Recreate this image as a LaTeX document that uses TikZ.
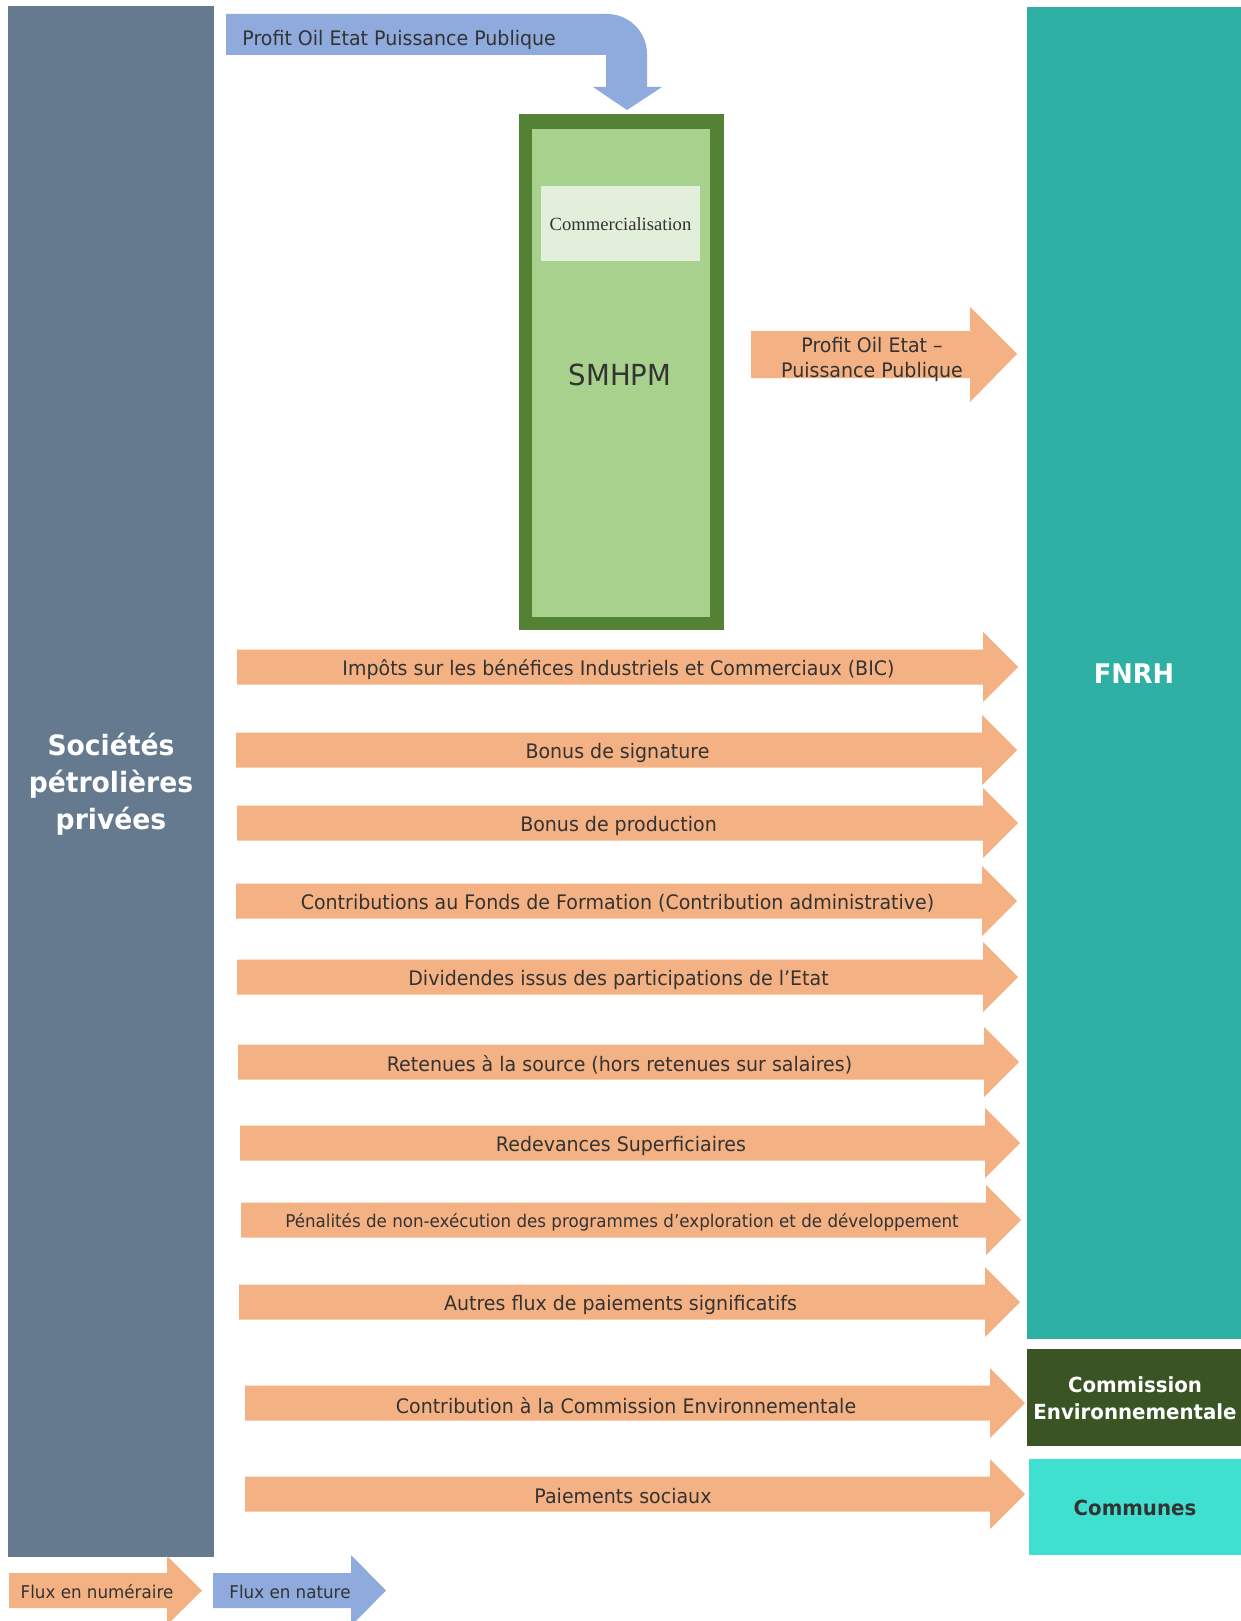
\documentclass[tikz,border=0pt]{standalone}
\usepackage{fontspec}
\setmainfont[FakeStretch=0.95]{DejaVu Sans}
\newfontfamily\serifcom{Liberation Serif}

\definecolor{fluxorange}{HTML}{F4B183}
\definecolor{fluxblue}{HTML}{8FAADC}
\definecolor{societes}{HTML}{657A8F}
\definecolor{fnrh}{HTML}{2EB0A4}
\definecolor{commission}{HTML}{3A5424}
\definecolor{communes}{HTML}{40E0D0}
\definecolor{smhpmdark}{HTML}{548235}
\definecolor{smhpmlight}{HTML}{A9D18E}
\definecolor{commbox}{HTML}{E2EFDA}
\definecolor{txtgray}{HTML}{333333}

\begin{document}
\begin{tikzpicture}[x=0.5pt, y=-0.5pt,
    every node/.style={font=\fontsize{10}{12.5}\selectfont, text=txtgray, inner sep=0pt, align=center},
    bigtitle/.style={font=\fontsize{14}{18.5}\selectfont\bfseries, text=white},
    boxtitle/.style={font=\fontsize{10.4}{13.5}\selectfont\bfseries}]

\useasboundingbox (0,0) rectangle (1241,1621);

% blocs
\fill[societes] (8,6) rectangle (214,1557);
\node[bigtitle] (soc) at (111,784) {Sociétés\\pétrolières\\privées};

\fill[fnrh] (1027,7) rectangle (1241,1339);
\node[bigtitle, font=\fontsize{13.5}{18}\selectfont\bfseries] (fnrh) at (1134,674) {FNRH};

\fill[commission] (1027,1349) rectangle (1241,1446);
\node[boxtitle, text=white] (comenv) at (1135,1398) {Commission\\Environnementale};

\fill[communes] (1029,1459) rectangle (1241,1555);
\node[boxtitle] (communes) at (1135,1508) {Communes};

% SMHPM
\fill[smhpmdark] (519,114) rectangle (724,630);
\fill[smhpmlight] (532,129) rectangle (710,617);
\fill[commbox] (541,186) rectangle (700,261);
\node[font=\serifcom\fontsize{9.3}{11}\selectfont] (comm) at (620.5,224) {Commercialisation};
\node[font=\fontsize{14.5}{18}\selectfont] (smhpm) at (620,375) {SMHPM};

% flux en nature vers SMHPM
\fill[fluxblue] (226,14) -- (607,14) arc(-90:0:40) -- (647,87) -- (662,87) -- (627,110)
    -- (593,87) -- (606,87) -- (606,55) -- (226,55) -- cycle;
\node[anchor=west] (pnature) at (242,40) {Profit Oil Etat Puissance Publique};

% SMHPM vers FNRH
\fill[fluxorange] (751,331) -- (970,331) -- (970,307) -- (1017,354) -- (970,402)
    -- (970,378) -- (751,378) -- cycle;
\node (pnum) at (872,359) {Profit Oil Etat –\\Puissance Publique};

% flux en numeraire
\foreach \n/\xl/\yc/\xt/\fs/\lbl in {
1/237/667/1018/10/{Impôts sur les bénéfices Industriels et Commerciaux (BIC)},
2/236/750/1017/10/{Bonus de signature},
3/237/823/1018/10/{Bonus de production},
4/236/901/1017/10/{Contributions au Fonds de Formation (Contribution administrative)},
5/237/977/1018/10/{Dividendes issus des participations de l’Etat},
6/238/1062/1019/10/{Retenues à la source (hors retenues sur salaires)},
7/240/1143/1020/10/{Redevances Superficiaires},
8/241/1220/1021/8.8/{Pénalités de non-exécution des programmes d’exploration et de développement},
9/239/1302/1020/10/{Autres flux de paiements significatifs},
10/245/1403/1025/10/{Contribution à la Commission Environnementale},
11/245/1494/1025/10/{Paiements sociaux}
}{
    \fill[fluxorange] (\xl,\yc-17.5) -- (\xt-35,\yc-17.5) -- (\xt-35,\yc-35) -- (\xt,\yc)
        -- (\xt-35,\yc+35) -- (\xt-35,\yc+17.5) -- (\xl,\yc+17.5) -- cycle;
    \node[font=\fontsize{\fs}{12}\selectfont] (flux\n) at ({(\xl+\xt)/2-9},\yc+2.5) {\lbl};
}

% legende
\fill[fluxorange] (9,1573) -- (167,1573) -- (167,1556) -- (202,1590.5) -- (167,1625)
    -- (167,1608) -- (9,1608) -- cycle;
\node[font=\fontsize{8.8}{11}\selectfont] (legnum) at (97,1592) {Flux en numéraire};
\fill[fluxblue] (213,1573) -- (351,1573) -- (351,1555) -- (386,1590.5) -- (351,1626)
    -- (351,1608) -- (213,1608) -- cycle;
\node[font=\fontsize{8.8}{11}\selectfont] (legnat) at (290,1592) {Flux en nature};

\end{tikzpicture}
\end{document}
